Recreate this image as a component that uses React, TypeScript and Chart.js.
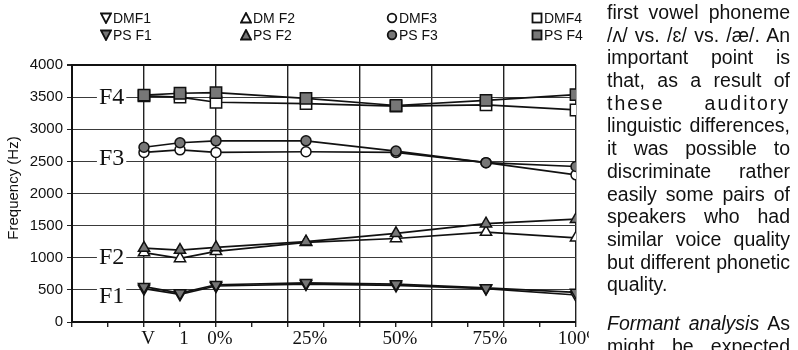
import React, { useEffect, useRef } from "react";
import { Chart, registerables } from "chart.js";
Chart.register(...registerables);

// x positions (percent of vowel duration; V and 1 are before onset)
const positions = [-20, -10, 0, 25, 50, 75, 100];
const tickLabels = ["V", "1", "0%", "25%", "50%", "75%", "100%"];
const yTicks = [0, 500, 1000, 1500, 2000, 2500, 3000, 3500, 4000];

const dmF1 = [520, 430, 560, 590, 570, 520, 420];
const psF1 = [550, 450, 580, 610, 590, 530, 460];
const dmF2 = [1080, 990, 1100, 1240, 1300, 1400, 1310];
const psF2 = [1150, 1120, 1160, 1250, 1380, 1530, 1600];
const dmF3 = [2640, 2680, 2640, 2650, 2640, 2480, 2290];
const psF3 = [2720, 2790, 2820, 2820, 2660, 2480, 2420];
const dmF4 = [3520, 3500, 3420, 3400, 3360, 3380, 3300];
const psF4 = [3530, 3560, 3570, 3480, 3370, 3450, 3540];

const formantLabels = ["F1", "F2", "F3", "F4"];
const formantLabelY = [405, 1012, 2553, 3502];
const formantLabelX = -29;

const yTitle = "Frequency (Hz)";

const legendRow1 = ["DMF1", "DM F2", "DMF3", "DMF4"];
const legendRow2 = ["PS F1", "PS F2", "PS F3", "PS F4"];

const textLines = [
  "first vowel phoneme",
  "/ʌ/ vs. /ɛ/ vs. /æ/. An",
  "important point is",
  "that, as a result of",
  "these auditory",
  "linguistic differences,",
  "it was possible to",
  "discriminate rather",
  "easily some pairs of",
  "speakers who had",
  "similar voice quality",
  "but different phonetic",
  "quality.",
];

const PS_FILL = "#777";
const DM_FILL = "#fff";
const INK = "#111";

function toPts(vals: number[]) {
  return vals.map((v, i) => ({ x: positions[i], y: v }));
}

function mk(label: string, vals: number[], style: any, rot: number, fill: string, r: number, order: number) {
  return {
    label,
    data: toPts(vals),
    borderColor: INK,
    borderWidth: 1.7,
    pointStyle: style,
    pointRotation: rot,
    pointRadius: r,
    pointBackgroundColor: fill,
    pointBorderColor: INK,
    pointBorderWidth: 1.5,
    fill: false,
    tension: 0,
    order,
  };
}

const formantLabelPlugin = {
  id: "formantLabels",
  beforeDatasetsDraw(chart: any) {
    const { ctx, scales } = chart;
    ctx.save();
    ctx.font = "24px 'Liberation Serif'";
    ctx.textAlign = "center";
    ctx.textBaseline = "middle";
    formantLabels.forEach((t, i) => {
      const x = scales.x.getPixelForValue(formantLabelX);
      const y = scales.y.getPixelForValue(formantLabelY[i]);
      const w = ctx.measureText(t).width;
      ctx.fillStyle = "#fff";
      ctx.fillRect(x - w / 2 - 2, y - 9, w + 4, 18);
      ctx.fillStyle = INK;
      ctx.fillText(t, x, y + 1);
    });
    // y axis title
    ctx.translate(14, 188);
    ctx.rotate(-Math.PI / 2);
    ctx.font = "15px 'Liberation Sans'";
    ctx.fillStyle = INK;
    ctx.fillText(yTitle, 0, 0);
    ctx.restore();
  },
};

function Sym({ kind, filled }: { kind: string; filled: boolean }) {
  const fill = filled ? PS_FILL : DM_FILL;
  let shape: any = null;
  if (kind === "down") shape = <polygon points="1,1.5 11,1.5 6,11" fill={fill} stroke={INK} strokeWidth={1.8} />;
  if (kind === "up") shape = <polygon points="6,1 11,10.5 1,10.5" fill={fill} stroke={INK} strokeWidth={1.8} />;
  if (kind === "circle") shape = <circle cx={6} cy={6} r={4.3} fill={fill} stroke={INK} strokeWidth={1.8} />;
  if (kind === "square") shape = <rect x={1.5} y={1.5} width={9} height={9} fill={fill} stroke={INK} strokeWidth={1.8} />;
  return (
    <svg width={12} height={12} style={{ display: "inline-block", verticalAlign: "middle", marginRight: 1 }}>
      {shape}
    </svg>
  );
}

export default function App() {
  const ref = useRef<HTMLCanvasElement>(null);
  useEffect(() => {
    const chart = new Chart(ref.current as HTMLCanvasElement, {
      type: "line",
      data: {
        datasets: [
          mk("DMF1", dmF1, "triangle", 180, DM_FILL, 6.5, 2),
          mk("PS F1", psF1, "triangle", 180, PS_FILL, 6.5, 1),
          mk("DM F2", dmF2, "triangle", 0, DM_FILL, 6.5, 2),
          mk("PS F2", psF2, "triangle", 0, PS_FILL, 6.5, 1),
          mk("DMF3", dmF3, "circle", 0, DM_FILL, 5, 2),
          mk("PS F3", psF3, "circle", 0, PS_FILL, 5, 1),
          mk("DMF4", dmF4, "rect", 0, DM_FILL, 8, 2),
          mk("PS F4", psF4, "rect", 0, PS_FILL, 8, 1),
        ] as any,
      },
      options: {
        animation: false,
        responsive: false,
        layout: { padding: { left: 0, top: 65, right: 222, bottom: 0 } },
        plugins: { legend: { display: false }, tooltip: { enabled: false } },
        scales: {
          x: {
            type: "linear",
            position: "bottom",
            min: -40,
            max: 100,
            weight: 1,
            afterBuildTicks: (axis: any) => {
              axis.ticks = positions.map((v) => ({ value: v }));
            },
            afterFit: (s: any) => {
              s.height = 28;
            },
            ticks: {
              callback: (_v: any, i: number) => tickLabels[i],
              font: { family: "'Liberation Serif'", size: 19 },
              color: INK,
              padding: 6,
              labelOffset: 4,
              maxRotation: 0,
              autoSkip: false,
            },
            grid: { display: false, drawTicks: false },
            border: { display: false },
          },
          xGrid: {
            type: "linear",
            position: "bottom",
            min: -40,
            max: 100,
            weight: 0,
            afterFit: (s: any) => {
              s.height = 0;
            },
            ticks: { stepSize: 10, display: false },
            grid: {
              color: (c: any) => (c.tick && c.tick.value % 20 === 0 ? "#222" : "rgba(0,0,0,0)"),
              lineWidth: 1.4,
              drawTicks: true,
              tickLength: 5,
              tickColor: "#222",
              tickWidth: 1.4,
            },
            border: { display: true, color: INK, width: 2 },
          },
          y: {
            type: "linear",
            min: 0,
            max: 4000,
            afterBuildTicks: (axis: any) => {
              axis.ticks = yTicks.map((v) => ({ value: v }));
            },
            afterFit: (s: any) => {
              s.width = 72;
            },
            ticks: {
              callback: (v: any) => String(v),
              font: { family: "'Liberation Sans'", size: 15 },
              color: INK,
              padding: 4,
            },
            grid: {
              color: (c: any) => (c.tick && c.tick.value === 4000 ? INK : "#3a3a3a"),
              lineWidth: (c: any) => (c.tick && c.tick.value === 4000 ? 2 : 1),
              drawTicks: true,
              tickLength: 5,
              tickColor: "#222",
            },
            border: { display: true, color: INK, width: 2 },
          },
        },
      } as any,
      plugins: [formantLabelPlugin],
    });
    return () => chart.destroy();
  }, []);

  const legendX = [100, 240, 386, 531];
  const kinds = ["down", "up", "circle", "square"];
  const legendStyle: React.CSSProperties = {
    position: "absolute",
    fontFamily: "'Liberation Sans'",
    fontSize: 14,
    color: INK,
    whiteSpace: "nowrap",
    lineHeight: "16px",
  };

  return (
    <div style={{ position: "absolute", left: 0, top: 0, width: 798, height: 350, background: "#fff", overflow: "hidden" }}>
      <canvas ref={ref} width={798} height={350} style={{ position: "absolute", left: 0, top: 0, width: 798, height: 350 }} />
      {legendRow1.map((t, i) => (
        <div key={"a" + i} style={{ ...legendStyle, left: legendX[i], top: 9 }}>
          <Sym kind={kinds[i]} filled={false} />
          <span style={{ verticalAlign: "middle" }}>{t}</span>
        </div>
      ))}
      {legendRow2.map((t, i) => (
        <div key={"b" + i} style={{ ...legendStyle, left: legendX[i], top: 26 }}>
          <Sym kind={kinds[i]} filled={true} />
          <span style={{ verticalAlign: "middle" }}>{t}</span>
        </div>
      ))}
      <div style={{ position: "absolute", left: 589, top: 323, width: 18, height: 27, background: "#fff" }} />
      <div
        style={{
          position: "absolute",
          left: 607,
          top: 1,
          width: 183,
          fontFamily: "'Liberation Sans'",
          fontSize: 19.5,
          color: INK,
        }}
      >
        {textLines.map((t, i) => (
          <div
            key={i}
            style={{
              height: 22.7,
              lineHeight: "22.7px",
              whiteSpace: "nowrap",
              textAlign: i === textLines.length - 1 ? "left" : "justify",
              textAlignLast: i === textLines.length - 1 ? "left" : "justify",
              letterSpacing: i === 4 ? 2 : 0,
              overflow: "visible",
            }}
          >
            {t}
          </div>
        ))}
        <div style={{ height: 16 }} />
        <div style={{ height: 22.7, lineHeight: "22.7px", whiteSpace: "nowrap", textAlign: "justify", textAlignLast: "justify" }}>
          <i>Formant analysis</i> As
        </div>
        <div style={{ height: 22.7, lineHeight: "22.7px", whiteSpace: "nowrap", textAlign: "justify", textAlignLast: "justify" }}>
          might be expected
        </div>
      </div>
    </div>
  );
}
